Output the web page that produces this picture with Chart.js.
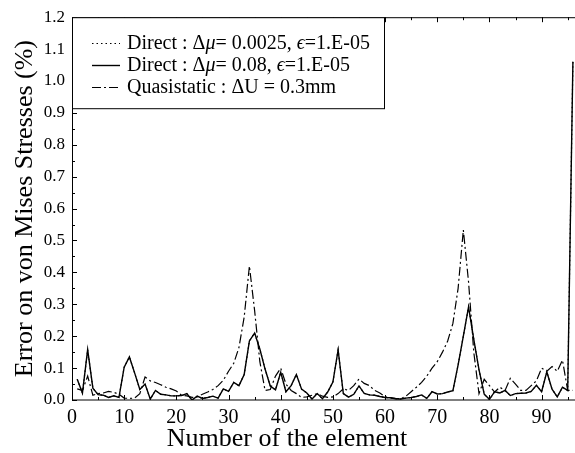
<!DOCTYPE html>
<html>
<head>
<meta charset="utf-8">
<script src="https://cdn.jsdelivr.net/npm/chart.js@4.4.1/dist/chart.umd.min.js"></script>
<style>
  html, body { margin: 0; padding: 0; background: #fff; }
  #wrap { width: 575px; height: 453px; }
</style>
</head>
<body>
<div id="wrap"><canvas id="c" width="575" height="453"></canvas></div>
<script>
// Element numbers 1..96
const elements = Array.from({ length: 96 }, (_, i) => i + 1);

// Error on von Mises stresses (%) per element
const directFine = [
  0.065, 0.022, 0.158, 0.037, 0.017, 0.015, 0.008, 0.013, 0.008, 0.103,
  0.135, 0.085, 0.033, 0.050, 0.003, 0.030, 0.018, 0.016, 0.013, 0.013,
  0.014, 0.020, 0.000, 0.012, 0.005, 0.008, 0.012, 0.006, 0.035, 0.027,
  0.055, 0.045, 0.080, 0.185, 0.210, 0.160, 0.097, 0.044, 0.032, 0.087,
  0.026, 0.045, 0.080, 0.034, 0.022, 0.003, 0.020, 0.004, 0.025, 0.056,
  0.157, 0.020, 0.009, 0.018, 0.044, 0.021, 0.016, 0.015, 0.011, 0.008,
  0.007, 0.004, 0.003, 0.006, 0.008, 0.011, 0.016, 0.005, 0.026, 0.019,
  0.020, 0.025, 0.029, 0.110, 0.200, 0.292, 0.190, 0.095, 0.018, 0.002,
  0.026, 0.022, 0.030, 0.014, 0.020, 0.021, 0.022, 0.027, 0.046, 0.026,
  0.088, 0.034, 0.010, 0.040, 0.030, 1.060
];
const directCoarse = [
  0.065, 0.022, 0.158, 0.037, 0.017, 0.015, 0.008, 0.013, 0.008, 0.103,
  0.135, 0.085, 0.033, 0.050, 0.003, 0.030, 0.018, 0.016, 0.013, 0.013,
  0.014, 0.020, 0.000, 0.012, 0.005, 0.008, 0.012, 0.006, 0.035, 0.027,
  0.055, 0.045, 0.080, 0.185, 0.210, 0.160, 0.097, 0.044, 0.032, 0.087,
  0.026, 0.045, 0.080, 0.034, 0.022, 0.003, 0.020, 0.004, 0.025, 0.056,
  0.157, 0.020, 0.009, 0.018, 0.044, 0.021, 0.016, 0.015, 0.011, 0.008,
  0.007, 0.004, 0.003, 0.006, 0.008, 0.011, 0.016, 0.005, 0.026, 0.019,
  0.020, 0.025, 0.029, 0.110, 0.200, 0.292, 0.190, 0.095, 0.018, 0.002,
  0.026, 0.022, 0.030, 0.014, 0.020, 0.021, 0.022, 0.027, 0.046, 0.026,
  0.088, 0.034, 0.010, 0.040, 0.030, 1.060
];
const quasistatic = [
  0.035, 0.030, 0.075, 0.015, 0.020, 0.022, 0.027, 0.024, 0.018, 0.006,
  0.005, 0.006, 0.020, 0.072, 0.060, 0.055, 0.048, 0.040, 0.035, 0.028,
  0.015, 0.013, 0.008, 0.010, 0.018, 0.025, 0.033, 0.045, 0.062, 0.090,
  0.115, 0.165, 0.260, 0.420, 0.280, 0.120, 0.030, 0.033, 0.075, 0.100,
  0.050, 0.030, 0.020, 0.008, 0.010, 0.015, 0.020, 0.012, 0.008, 0.010,
  0.020, 0.035, 0.030, 0.045, 0.066, 0.052, 0.045, 0.030, 0.022, 0.010,
  0.007, 0.005, 0.004, 0.012, 0.026, 0.040, 0.055, 0.075, 0.100, 0.120,
  0.150, 0.185, 0.240, 0.350, 0.533, 0.370, 0.150, 0.020, 0.065, 0.045,
  0.025, 0.040, 0.030, 0.068, 0.050, 0.030, 0.030, 0.045, 0.060, 0.100,
  0.090, 0.105, 0.090, 0.125, 0.030, 0.030
];

const seriesLabels = [
  'Direct : Δμ= 0.0025, ϵ=1.E-05',
  'Direct : Δμ= 0.08, ϵ=1.E-05',
  'Quasistatic : ΔU = 0.3mm'
];
const xTitle = 'Number of the element';
const yTitle = 'Error on von Mises Stresses (%)';

const SERIF = "'Liberation Serif', 'DejaVu Serif', 'Times New Roman', serif";

const toPoints = arr => elements.map((e, i) => ({ x: e, y: arr[i] }));

// Text with italic math letters (μ, ϵ)
function drawRich(ctx, text, x, y, size) {
  const italic = 'μϵ';
  let runs = [];
  for (const ch of text) {
    const it = italic.includes(ch);
    if (runs.length && runs[runs.length - 1].it === it) runs[runs.length - 1].s += ch;
    else runs.push({ s: ch, it });
  }
  let cx = x;
  for (const r of runs) {
    ctx.font = (r.it ? 'italic ' : '') + size + 'px ' + SERIF;
    ctx.fillText(r.s, cx, y);
    cx += ctx.measureText(r.s).width;
  }
}

// Frame with inward ticks, legend box and axis titles
const decorPlugin = {
  id: 'decor',
  afterDatasetsDraw(chart) {
    const { ctx, chartArea: a, scales: { x, y } } = chart;
    ctx.save();
    ctx.strokeStyle = '#000';
    ctx.lineWidth = 1;
    ctx.setLineDash([]);
    ctx.strokeRect(a.left + 0.5, a.top + 0.5, a.right - a.left + 2, a.bottom - a.top - 0.5);

    ctx.beginPath();
    for (let v = 0; v <= 95; v += 5) {
      const px = Math.round(x.getPixelForValue(v)) + 0.5;
      const len = v % 10 === 0 ? 5 : 3;
      ctx.moveTo(px, a.bottom); ctx.lineTo(px, a.bottom - len);
      ctx.moveTo(px, a.top); ctx.lineTo(px, a.top + len);
    }
    for (let k = 0; k <= 24; k++) {
      const v = k * 0.05;
      const py = Math.round(y.getPixelForValue(v)) + 0.5;
      const len = k % 2 === 0 ? 5 : 3;
      ctx.moveTo(a.left, py); ctx.lineTo(a.left + len, py);
    }
    ctx.stroke();

    // legend
    const bx = a.left + 0.5, by = a.top + 0.5, bw = 312, bh = 91;
    ctx.fillStyle = '#fff';
    ctx.fillRect(bx, by, bw, bh);
    ctx.strokeRect(bx, by, bw, bh);
    const rows = [43, 65, 87];
    chart.data.datasets.forEach((ds, i) => {
      const ry = rows[i] + 0.5;
      ctx.save();
      ctx.lineWidth = ds.borderWidth;
      ctx.setLineDash(ds.borderDash || []);
      ctx.beginPath();
      ctx.moveTo(92, ry); ctx.lineTo(120, ry);
      ctx.stroke();
      ctx.restore();
      ctx.fillStyle = '#000';
      ctx.textBaseline = 'middle';
      ctx.textAlign = 'left';
      drawRich(ctx, ds.label, 127, rows[i] + 1, 20);
    });

    // axis titles
    ctx.fillStyle = '#000';
    ctx.font = '26px ' + SERIF;
    ctx.textAlign = 'center';
    ctx.textBaseline = 'alphabetic';
    ctx.fillText(xTitle, 287, 446);
    ctx.save();
    ctx.translate(32, (a.top + a.bottom) / 2);
    ctx.rotate(-Math.PI / 2);
    ctx.fillText(yTitle, 0, 0);
    ctx.restore();
    ctx.restore();
  }
};

new Chart(document.getElementById('c'), {
  type: 'line',
  data: {
    datasets: [
      { label: seriesLabels[0], data: toPoints(directFine), borderColor: '#000',
        borderWidth: 1.2, borderDash: [1.5, 3], pointRadius: 0, tension: 0, order: 1 },
      { label: seriesLabels[1], data: toPoints(directCoarse), borderColor: '#000',
        borderWidth: 1.4, pointRadius: 0, tension: 0, order: 0 },
      { label: seriesLabels[2], data: toPoints(quasistatic), borderColor: '#000',
        borderWidth: 1.2, borderDash: [9, 3, 2, 3], pointRadius: 0, tension: 0, order: 2 }
    ]
  },
  options: {
    responsive: false,
    animation: false,
    devicePixelRatio: 1,
    layout: { padding: { top: 16, right: 0, left: 0, bottom: 0 } },
    plugins: { legend: { display: false }, tooltip: { enabled: false } },
    scales: {
      x: {
        type: 'linear', min: 0, max: 96.4,
        grid: { display: false, drawTicks: false },
        border: { display: false },
        ticks: {
          stepSize: 10, includeBounds: false, autoSkip: false, maxRotation: 0,
          color: '#000', padding: 6, font: { family: SERIF, size: 20 }
        },
        afterFit(s) { s.height = 53; }
      },
      y: {
        min: 0, max: 1.2,
        grid: { display: false, drawTicks: false },
        border: { display: false },
        ticks: {
          stepSize: 0.1, autoSkip: false, color: '#000', padding: 7,
          font: { family: SERIF, size: 17 },
          callback: v => v.toFixed(1)
        },
        afterFit(s) { s.width = 72; }
      }
    }
  },
  plugins: [decorPlugin]
});
</script>
</body>
</html>
